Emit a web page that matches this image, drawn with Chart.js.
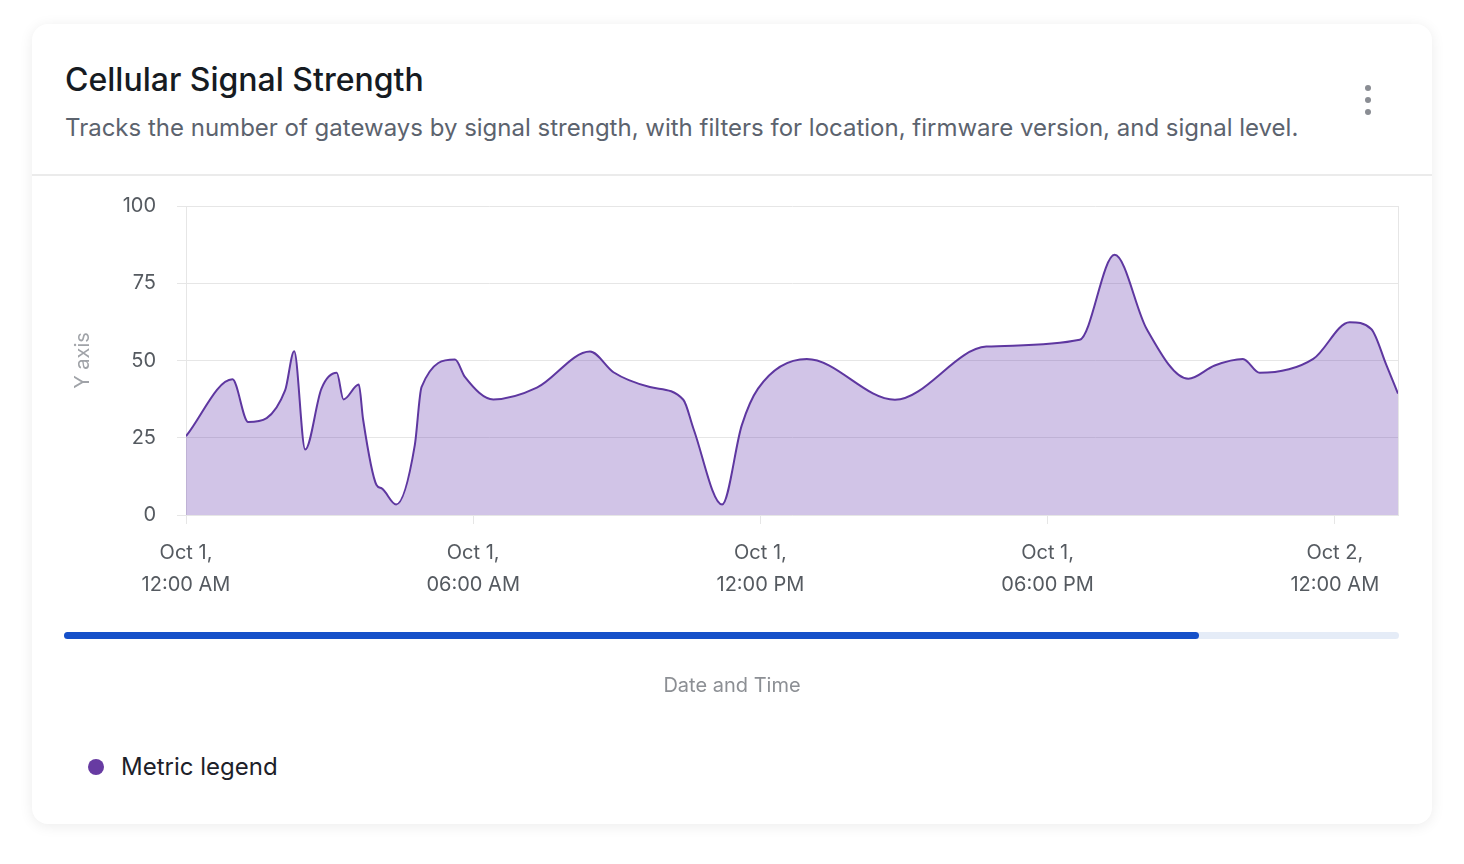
<!DOCTYPE html>
<html>
<head>
<meta charset="utf-8">
<script src="https://cdn.jsdelivr.net/npm/chart.js@4.4.1/dist/chart.umd.min.js"></script>
<style>
  html, body { margin: 0; padding: 0; background: #fff; font-family: Inter, "Noto Sans", sans-serif; }
  .card { position: absolute; left: 32px; top: 24px; width: 1400px; height: 800px; background: #fff;
          border-radius: 16px; box-shadow: 0 2px 14px rgba(0,0,0,0.08); }
  .title { position: absolute; left: 65px; top: 61px; font-size: 32px; font-weight: 500; color: #161b22; margin: 0; line-height: 38px; }
  .subtitle { position: absolute; left: 65px; top: 113px; font-size: 24px; color: #5c636e; margin: 0; line-height: 30px; }
  .divider { position: absolute; left: 32px; top: 174px; width: 1400px; height: 2px; background: #ebebeb; }
  .kebab span { position: absolute; left: 1365px; width: 6px; height: 6px; border-radius: 50%; background: #8a8d93; }
  .chart-box { position: absolute; left: 60px; top: 169px; width: 1350px; height: 527px; }
  .track { position: absolute; left: 64px; top: 632px; width: 1335px; height: 7px; border-radius: 4px; background: #e5ecf7; }
  .thumb { position: absolute; left: 64px; top: 632px; width: 1135px; height: 7px; border-radius: 4px; background: #1550c9; }
  .x-title { position: absolute; left: 32px; width: 1400px; top: 672px; text-align: center; font-size: 20px; line-height: 26px; color: #8c8f94; }
  .legend { position: absolute; left: 88px; top: 752px; display: flex; align-items: center; font-size: 24px; color: #1d2129; }
  .legend i { display: inline-block; width: 16px; height: 16px; border-radius: 50%; background: #673ba2; margin-right: 17px; }
</style>
</head>
<body>
<div class="card"></div>
<h1 class="title">Cellular Signal Strength</h1>
<p class="subtitle">Tracks the number of gateways by signal strength, with filters for location, firmware version, and signal level.</p>
<div class="kebab"><span style="top:85px"></span><span style="top:97px"></span><span style="top:109px"></span></div>
<div class="divider"></div>
<div class="chart-box"><canvas id="signalChart"></canvas></div>
<div class="track"></div>
<div class="thumb"></div>
<div class="x-title">Date and Time</div>
<div class="legend"><i></i>Metric legend</div>

<script>
// hours since Oct 1, 12:00 AM
const hours = [0, 0.97, 1.30, 2.07, 2.26, 2.49, 2.83, 3.15, 3.29, 3.61, 3.70, 3.98, 4.09, 4.39, 4.78, 4.92,
    5.62, 5.83, 6.42, 7.33, 8.44, 8.93, 9.69, 10.39, 10.60, 11.20, 11.61, 11.95, 12.97, 14.81, 16.72, 18.67,
    19.40, 20.07, 20.94, 21.49, 22.08, 22.43, 23.55, 24.31, 24.76, 25.08, 25.32];
const signal = [25.5, 43.9, 30.1, 40.3, 53, 21.2, 40.9, 46, 37.4, 42.2, 30.9, 9.7, 8.6, 3.4, 22.6, 41.4,
    50.3, 44.6, 37.4, 41.2, 52.9, 46.2, 41.4, 37.3, 28, 3.4, 29, 40.9, 50.5, 37.3, 54.5, 56.7,
    84.2, 60.2, 44.1, 48.4, 50.5, 46, 50.5, 62.4, 60.2, 48.4, 39.3];
const tickLabels = [
    ['Oct 1,', '12:00 AM'],
    ['Oct 1,', '06:00 AM'],
    ['Oct 1,', '12:00 PM'],
    ['Oct 1,', '06:00 PM'],
    ['Oct 2,', '12:00 AM']
];

const ctx = document.getElementById('signalChart');
const gridColor = '#e6e6e6';
const tickFont = { family: 'Inter', size: 20, lineHeight: 1.6 };

new Chart(ctx, {
    type: 'line',
    data: {
        datasets: [{
            label: 'Metric legend',
            data: hours.map((h, i) => ({ x: h, y: signal[i] })),
            borderColor: '#5e37a0',
            backgroundColor: 'rgba(103, 58, 175, 0.3)',
            borderWidth: 2,
            fill: 'origin',
            pointRadius: 0,
            cubicInterpolationMode: 'monotone'
        }]
    },
    options: {
        responsive: true,
        maintainAspectRatio: false,
        animation: false,
        layout: { padding: { top: 14, right: 12, left: 0, bottom: 0 } },
        plugins: {
            legend: { display: false },
            tooltip: { enabled: false }
        },
        scales: {
            x: {
                type: 'linear',
                min: 0,
                max: 25.32,
                grid: { drawOnChartArea: false, color: gridColor, tickLength: 9 },
                border: { color: gridColor },
                ticks: {
                    stepSize: 6,
                    includeBounds: false,
                    maxRotation: 0,
                    padding: 13,
                    color: '#555a60',
                    font: tickFont,
                    callback: v => tickLabels[Math.round(v / 6)]
                },
                afterFit: s => { s.height = 181; }
            },
            y: {
                min: 0,
                max: 100,
                grid: { color: gridColor, tickLength: 9 },
                border: { color: gridColor },
                ticks: {
                    stepSize: 25,
                    padding: 21,
                    color: '#555a60',
                    font: tickFont
                },
                title: {
                    display: true,
                    text: 'Y axis',
                    color: '#a0a3a8',
                    font: { family: 'Inter', size: 20 },
                    padding: { top: 11 }
                },
                afterFit: s => { s.width = 126; }
            },
            y2: {
                position: 'right',
                min: 0,
                max: 100,
                grid: { display: false },
                border: { display: true, color: gridColor },
                ticks: { display: false },
                afterFit: s => { s.width = 0; }
            }
        }
    }
});
</script>
</body>
</html>
